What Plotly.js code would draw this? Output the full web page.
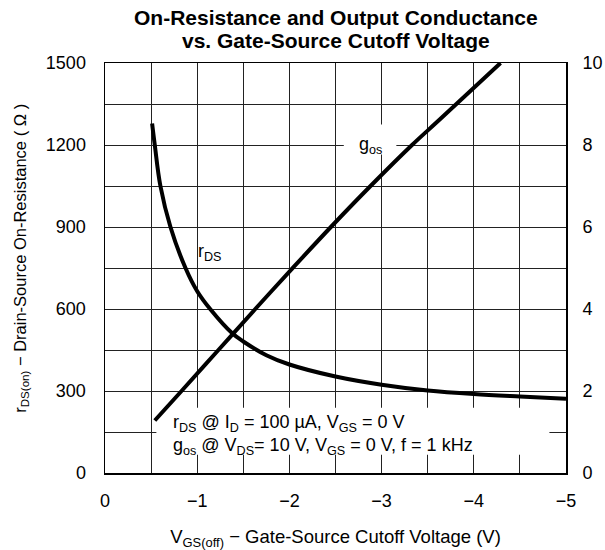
<!DOCTYPE html>
<html>
<head>
<meta charset="utf-8">
<script src="https://cdn.plot.ly/plotly-3.0.1.min.js"></script>
<style>html,body{margin:0;padding:0;background:#fff;}#chart{width:605px;height:550px;}</style>
</head>
<body>
<div id="chart"></div>
<script>
// r_DS(on) vs V_GS(off)  (left axis, ohms)
var rdsV = [-0.511, -0.54, -0.601, -0.71, -0.873, -1.0, -1.145, -1.38, -1.5, -1.75, -2.0, -2.5, -3.0, -3.5, -4.0, -4.5, -5.0];
var rdsR = [1279, 1200, 1050, 900, 750, 665, 598, 511, 481, 431, 397, 353, 323, 302, 289, 280, 272];
// g_os vs V_GS(off)  (right axis)
var gosV = [-0.54, -0.83, -1.23, -1.63, -2.02, -2.45, -2.88, -3.33, -3.63, -4.29];
var gosG = [1.28, 2.0, 3.0, 4.0, 4.96, 6.0, 7.0, 8.0, 8.62, 10.0];
// tick labels
var xTickVals = [0, -1, -2, -3, -4, -5];
var xTickText = ['0', '\u22121', '\u22122', '\u22123', '\u22124', '\u22125'];
var yLeftTicks = [0, 300, 600, 900, 1200, 1500];
var yRightTicks = [0, 2, 4, 6, 8, 10];

var font = 'Liberation Sans, Arial, Helvetica, sans-serif';

var traces = [
  {x: rdsV, y: rdsR, type: 'scatter', mode: 'lines', line: {color: '#000', width: 4, shape: 'spline', smoothing: 1}, hoverinfo: 'skip'},
  {x: gosV, y: gosG, type: 'scatter', mode: 'lines', yaxis: 'y2', line: {color: '#000', width: 4, shape: 'spline', smoothing: 1}, hoverinfo: 'skip'}
];

var gridCol = '#222';
var layout = {
  width: 605, height: 550,
  margin: {l: 105, r: 39, t: 63, b: 77},
  paper_bgcolor: '#fff', plot_bgcolor: '#fff',
  showlegend: false,
  font: {family: font, size: 18, color: '#000'},
  xaxis: {
    range: [0, -5], tickmode: 'array', tickvals: xTickVals, ticktext: xTickText,
    showgrid: true, gridcolor: gridCol, gridwidth: 1,
    minor: {dtick: 0.5, tick0: 0, showgrid: true, gridcolor: gridCol, gridwidth: 1},
    showline: true, mirror: true, linecolor: '#000', linewidth: 1.5, zeroline: false,
    ticks: 'outside', ticklen: 11, tickcolor: 'rgba(0,0,0,0)',
    tickfont: {size: 18},
    title: {text: 'V<sub>GS(off)</sub> \u2212 Gate-Source Cutoff Voltage (V)', font: {size: 18.5}, standoff: 22},
    fixedrange: true
  },
  yaxis: {
    range: [0, 1500], tickmode: 'array', tickvals: yLeftTicks,
    showgrid: true, gridcolor: gridCol, gridwidth: 1,
    minor: {dtick: 150, tick0: 0, showgrid: true, gridcolor: gridCol, gridwidth: 1},
    showline: true, mirror: true, linecolor: '#000', linewidth: 1.5, zeroline: false,
    ticks: 'outside', ticklen: 14, tickcolor: 'rgba(0,0,0,0)',
    tickfont: {size: 18},
    fixedrange: true
  },
  yaxis2: {
    range: [0, 10], overlaying: 'y', side: 'right', tickmode: 'array', tickvals: yRightTicks,
    showgrid: false, zeroline: false, showline: false,
    ticks: 'outside', ticklen: 12, tickcolor: 'rgba(0,0,0,0)',
    tickfont: {size: 18}, fixedrange: true
  },
  shapes: [
    {type: 'rect', xref: 'x', yref: 'y', x0: -0.557, x1: -4.82, y0: 67, y1: 239, fillcolor: '#fff', line: {width: 0}, layer: 'between'},
    {type: 'rect', xref: 'x', yref: 'y', x0: -2.59, x1: -3.16, y0: 1165, y1: 1275, fillcolor: '#fff', line: {width: 0}, layer: 'between'}
  ],
  annotations: [
    {xref: 'paper', yref: 'paper', x: 0.5, y: 1.111, xanchor: 'center', yanchor: 'middle', showarrow: false,
     text: '<b>On-Resistance and Output Conductance</b>', font: {size: 21}},
    {xref: 'paper', yref: 'paper', x: 0.5, y: 1.055, xanchor: 'center', yanchor: 'middle', showarrow: false,
     text: '<b>vs. Gate-Source Cutoff Voltage</b>', font: {size: 21}},
    {xref: 'paper', yref: 'paper', x: -0.184, y: 0.523, xanchor: 'center', yanchor: 'middle', textangle: -90, showarrow: false,
     text: 'r<sub>DS(on)</sub> \u2212 Drain-Source On-Resistance ( \u03A9 )', font: {size: 16.5}},
    {x: -2.88, y: 1200, xref: 'x', yref: 'y', text: 'g<sub>os</sub>', showarrow: false, font: {size: 18}},
    {x: -1.135, y: 806, xref: 'x', yref: 'y', text: 'r<sub>DS</sub>', showarrow: false, font: {size: 18}},
    {x: -0.713, y: 140, xref: 'x', yref: 'y', xanchor: 'left', yanchor: 'middle', align: 'left', showarrow: false, font: {size: 18},
     text: 'r<sub>DS</sub> @ I<sub>D</sub> = 100 \u00B5A, V<sub>GS</sub> = 0 V<br>g<sub>os</sub> @ V<sub>DS</sub>= 10 V, V<sub>GS</sub> = 0 V, f = 1 kHz'}
  ]
};

Plotly.newPlot('chart', traces, layout, {displayModeBar: false, staticPlot: true});
</script>
</body>
</html>
